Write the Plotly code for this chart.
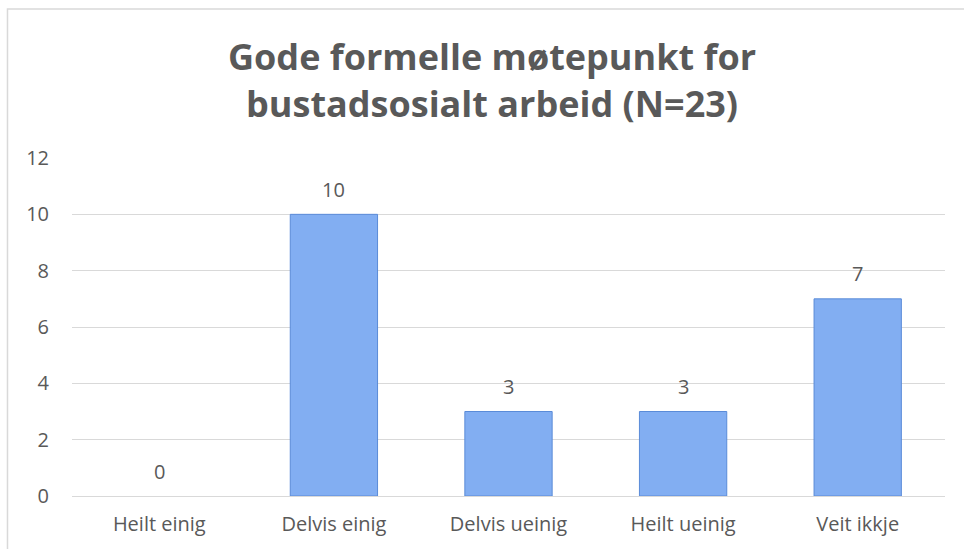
import plotly.graph_objects as go

categories = ["Heilt einig", "Delvis einig", "Delvis ueinig", "Heilt ueinig", "Veit ikkje"]
values = [0, 10, 3, 3, 7]
y_ticks = [0, 2, 4, 6, 8, 10, 12]

title_text = "Gode formelle møtepunkt for<br>bustadsosialt arbeid (N=23)"
font_family = "Open Sans, Noto Sans, sans-serif"
gray = "#595959"

fig = go.Figure()
fig.add_trace(go.Bar(
    x=categories,
    y=values,
    marker=dict(color="#82aef2",
                line=dict(color="#5a8bd8", width=[1 if v > 0 else 0 for v in values])),
    hoverinfo="skip",
))

for c, v in zip(categories, values):
    fig.add_annotation(x=c, y=v, text=str(v), showarrow=False, yshift=25,
                       font=dict(family=font_family, size=20, color=gray))

fig.add_annotation(xref="paper", yref="paper", x=0.481, y=1.2308, xanchor="center", yanchor="middle",
                   text="<b>" + title_text + "</b>", showarrow=False,
                   font=dict(family=font_family, size=36, color=gray))

fig.add_shape(type="rect", xref="paper", yref="paper",
              x0=-0.0739, x1=1.2, y0=-0.6, y1=1.4408,
              line=dict(color="#d9d9d9", width=1.5), fillcolor="rgba(0,0,0,0)", layer="below")

fig.update_layout(
    width=964, height=549,
    margin=dict(l=72, r=19, t=158, b=53),
    paper_bgcolor="white", plot_bgcolor="white",
    bargap=0.5,
    showlegend=False,
    font=dict(family=font_family, size=21, color=gray),
)
fig.update_yaxes(range=[0, 12], tickvals=y_ticks, showgrid=True, gridcolor="#d9d9d9", gridwidth=1,
                 zeroline=False, showline=False, ticks="", ticklabelstandoff=22,
                 tickfont=dict(family=font_family, size=20, color=gray))
fig.update_xaxes(showline=True, linecolor="#d9d9d9", linewidth=1, ticks="", ticklabelstandoff=10,
                 tickfont=dict(family=font_family, size=20, color=gray))

fig.write_html("out.html", config={"displayModeBar": False},
               post_script="document.body.style.margin='0';")
